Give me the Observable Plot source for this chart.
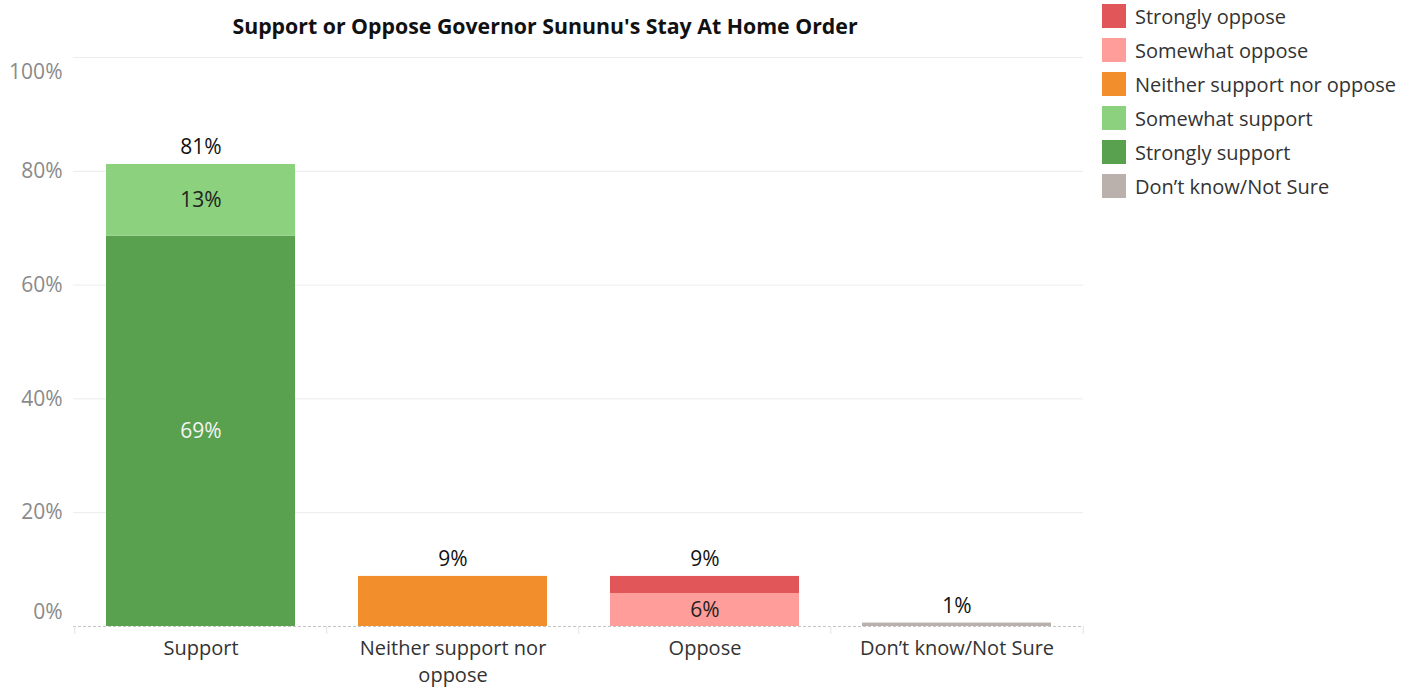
<!DOCTYPE html>
<html>
<head>
<meta charset="utf-8">
<script src="https://cdn.jsdelivr.net/npm/d3@7"></script>
<script src="https://cdn.jsdelivr.net/npm/@observablehq/plot@0.6"></script>
<style>
  html, body { margin: 0; padding: 0; background: #fff; }
  #wrap { position: relative; width: 1418px; height: 690px; font-family: "Open Sans", sans-serif; }
  #title { position: absolute; left: 0; width: 1090px; top: 11px; text-align: center; font-weight: bold; font-size: 21.3px; color: #111; white-space: nowrap; }
  #legend { position: absolute; left: 1102px; top: 4px; }
  .item { display: flex; align-items: center; height: 34px; }
  .item > .sw { width: 24px; height: 24px; margin-right: 9px; margin-top: -10px; }
  .item > .lab { font-size: 20px; color: #333; margin-top: -10px; }
  #chart { position: absolute; left: 0; top: 0; }
</style>
</head>
<body>
<div id="wrap">
  <div id="chart"></div>
  <div id="title">Support or Oppose Governor Sununu's Stay At Home Order</div>
  <div id="legend"></div>
</div>
<script>
// ---- data ----
const categories = ["Support", "Neither support nor oppose", "Oppose", "Don’t know/Not Sure"];
const responses = ["Strongly oppose", "Somewhat oppose", "Neither support nor oppose", "Somewhat support", "Strongly support", "Don’t know/Not Sure"];
const responseColors = ["#e15759", "#ff9d9a", "#f28e2b", "#8cd17d", "#59a14f", "#bab0ac"];
const segCategory = ["Support", "Support", "Neither support nor oppose", "Oppose", "Oppose", "Don’t know/Not Sure"];
const segResponse = ["Strongly support", "Somewhat support", "Neither support nor oppose", "Somewhat oppose", "Strongly oppose", "Don’t know/Not Sure"];
const segValue = [68.6, 12.6, 8.8, 5.8, 3.0, 0.6];
const segLabeled = [true, true, false, true, false, false];
const stackOrder = ["Strongly support", "Somewhat support", "Somewhat oppose", "Strongly oppose", "Neither support nor oppose", "Don’t know/Not Sure"];
const yTicks = [0, 20, 40, 60, 80, 100];

const segments = segValue.map((v, i) => ({category: segCategory[i], response: segResponse[i], value: v, labeled: segLabeled[i]}));
const totals = categories.map(c => ({category: c, total: d3.sum(segments.filter(s => s.category === c), s => s.value)}));

const fontFamily = "Open Sans, sans-serif";
const step = (1083 - 73) / categories.length;

const chart = Plot.plot({
  width: 1418,
  height: 690,
  marginLeft: 73,
  marginRight: 335,
  marginTop: 57,
  marginBottom: 64,
  style: {fontFamily, fontSize: "19px", background: "white"},
  x: {domain: categories, paddingInner: 0.25, paddingOuter: 0.125, label: null},
  y: {domain: [0, 100], label: null},
  color: {domain: responses, range: responseColors},
  marks: [
    Plot.ruleY(yTicks.filter(t => t > 0), {stroke: "#ececec", strokeWidth: 1}),
    Plot.ruleY([0], {stroke: "#c4c4c4", strokeDasharray: "3,2"}),
    Plot.ruleX(categories, {x: d => d, y1: 0, y2: -1.4, dx: -step / 2, stroke: "#e2e2e2", clip: false}),
    Plot.ruleX(categories.slice(-1), {x: d => d, y1: 0, y2: -1.4, dx: step / 2, stroke: "#e2e2e2", clip: false}),
    Plot.barY(segments, Plot.stackY({x: "category", y: "value", fill: "response", z: "response", order: stackOrder})),
    Plot.text(segments, Plot.stackY({
      x: "category", y: "value", z: "response", order: stackOrder,
      text: d => d.labeled ? Math.round(d.value) + "%" : "",
      fill: d => d.response === "Strongly support" ? "#f4f4f4" : "#222",
      fontSize: 21
    })),
    Plot.text(totals, {x: "category", y: "total", text: d => Math.round(d.total) + "%", dy: -17, fill: "#111", fontSize: 21}),
    Plot.axisY(yTicks.filter(t => t > 0 && t < 100), {tickSize: 0, tickPadding: 11, tickFormat: d => d + "%", fill: "#8a8a8a", fontSize: 21}),
    Plot.axisY([100], {tickSize: 0, tickPadding: 11, tickFormat: d => d + "%", fill: "#8a8a8a", fontSize: 21, dy: 15}),
    Plot.axisY([0], {tickSize: 0, tickPadding: 11, tickFormat: d => d + "%", fill: "#8a8a8a", fontSize: 21, dy: -14}),
    Plot.axisX({tickSize: 0, tickPadding: 9, fill: "#333", fontSize: 20, lineHeight: 1.35,
      tickFormat: d => d === "Neither support nor oppose" ? "Neither support nor\noppose" : d})
  ]
});
document.getElementById("chart").appendChild(chart);

const legend = document.getElementById("legend");
responses.forEach((r, i) => {
  const item = document.createElement("div");
  item.className = "item";
  item.innerHTML = `<div class="sw" style="background:${responseColors[i]}"></div><div class="lab">${r}</div>`;
  legend.appendChild(item);
});
</script>
</body>
</html>
